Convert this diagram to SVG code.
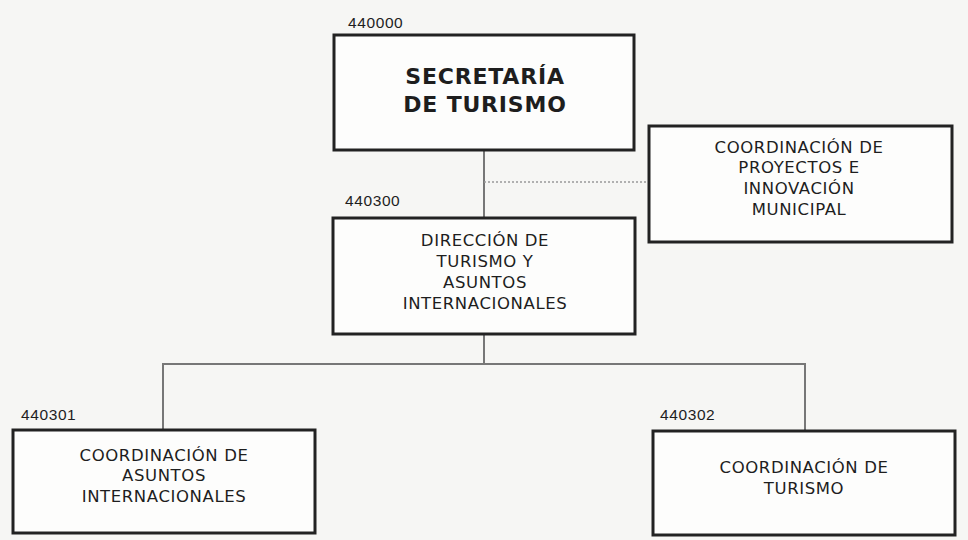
<svg xmlns="http://www.w3.org/2000/svg" width="968" height="540" viewBox="0 0 968 540">
<style>
.box{fill:#fdfdfc;stroke:#222;stroke-width:3}
.t{font-family:"DejaVu Sans",Verdana,sans-serif;font-size:16.5px;letter-spacing:0.6px;fill:#1e1e1e;text-anchor:middle}
.tb{font-family:"DejaVu Sans",Verdana,sans-serif;font-size:22px;letter-spacing:0.8px;font-weight:bold;fill:#1e1e1e;text-anchor:middle}
.code{font-family:"Liberation Sans",Arial,sans-serif;font-size:15.5px;letter-spacing:0.6px;fill:#1e1e1e}
.ln{stroke:#777;stroke-width:2;fill:none}
.dot{stroke:#999;stroke-width:1.5;stroke-dasharray:2 2;fill:none}
</style>
<rect width="968" height="540" fill="#f6f6f4"/>
<g id="connectors">
<line class="ln" x1="484" y1="150" x2="484" y2="218"/>
<line class="dot" x1="484" y1="182" x2="648" y2="182"/>
<line class="ln" x1="484" y1="334" x2="484" y2="364"/>
<line class="ln" x1="162" y1="364" x2="806" y2="364"/>
<line class="ln" x1="163" y1="364" x2="163" y2="430"/>
<line class="ln" x1="805" y1="364" x2="805" y2="431"/>
</g>
<g id="n440000">
<text class="code" x="348" y="28">440000</text>
<rect class="box" x="334" y="35" width="300" height="115"/>
<text class="tb" x="485" y="84">SECRETARÍA</text>
<text class="tb" x="485" y="112">DE TURISMO</text>
</g>
<g id="coord_proyectos">
<rect class="box" x="649" y="126" width="303" height="116"/>
<text class="t" x="799" y="153">COORDINACIÓN DE</text>
<text class="t" x="799" y="173">PROYECTOS E</text>
<text class="t" x="799" y="194">INNOVACIÓN</text>
<text class="t" x="799" y="215">MUNICIPAL</text>
</g>
<g id="n440300">
<text class="code" x="345" y="206">440300</text>
<rect class="box" x="333" y="218" width="302" height="116"/>
<text class="t" x="485" y="246">DIRECCIÓN DE</text>
<text class="t" x="485" y="267">TURISMO Y</text>
<text class="t" x="485" y="288">ASUNTOS</text>
<text class="t" x="485" y="309">INTERNACIONALES</text>
</g>
<g id="n440301">
<text class="code" x="21" y="420">440301</text>
<rect class="box" x="13" y="430" width="302" height="103"/>
<text class="t" x="164" y="461">COORDINACIÓN DE</text>
<text class="t" x="164" y="481">ASUNTOS</text>
<text class="t" x="164" y="502">INTERNACIONALES</text>
</g>
<g id="n440302">
<text class="code" x="660" y="420">440302</text>
<rect class="box" x="653" y="431" width="302" height="104"/>
<text class="t" x="804" y="473">COORDINACIÓN DE</text>
<text class="t" x="804" y="494">TURISMO</text>
</g>
</svg>
